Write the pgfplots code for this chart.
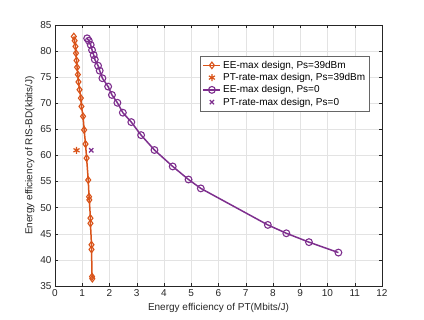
\documentclass[border=0pt]{standalone}
\usepackage{pgfplots}
\pgfplotsset{compat=1.18}
\usepackage{fontspec}
\setmainfont{Liberation Sans}
\definecolor{morange}{rgb}{0.85,0.325,0.098}
\definecolor{mpurple}{rgb}{0.494,0.184,0.556}
\definecolor{maxis}{rgb}{0.15,0.15,0.15}
\begin{document}
\begin{tikzpicture}
\path[use as bounding box] (-55pt,-34pt) rectangle (369pt,286pt);
\begin{axis}[
    scale only axis,
    width=327pt, height=261pt,
    xmin=0, xmax=12, ymin=35, ymax=85,
    xtick={0,1,...,12}, ytick={35,40,...,85},
    xlabel={Energy efficiency of PT(Mbits/J)},
    ylabel={Energy efficiency of RIS-BD(kbits/J)},
    grid=major, grid style={gray!22, line width=0.4pt},
    axis line style={maxis, line width=0.4pt},
    tick style={maxis, line width=0.4pt},
    tick align=inside, major tick length=3pt,
    ticklabel style={font=\normalsize, text=black!85},
    label style={font=\normalsize, text=black!85},
    xlabel style={yshift=0pt},
    ylabel style={yshift=-1pt},
    /pgf/number format/assume math mode=true,
    legend cell align=left,
    legend style={at={(0.963,0.88)}, anchor=north east, draw=black!60,
        fill=white, font=\normalsize, row sep=-0.5pt, inner sep=2.5pt},
]
\addplot[morange, line width=1.5pt, mark=diamond, mark size=3.3pt,
    mark options={line width=1.1pt, solid}] coordinates {
(0.69,82.8) (0.72,82.0) (0.75,80.9) (0.77,79.6) (0.79,78.2) (0.81,76.9)
(0.84,75.5) (0.86,74.1) (0.90,72.6) (0.95,71.0) (0.97,69.4) (1.03,67.5)
(1.07,64.9) (1.12,62.2) (1.16,59.5) (1.22,55.3) (1.25,52.1) (1.26,51.5)
(1.30,48.0) (1.30,47.0) (1.34,42.9) (1.34,42.0) (1.36,36.8) (1.37,36.4)
};
\addlegendentry{EE-max design, Ps=39dBm}
\addplot[morange, only marks, mark=asterisk, mark size=3.5pt,
    mark options={line width=1.2pt}] coordinates {(0.79,61.0)};
\addlegendentry{PT-rate-max design, Ps=39dBm}
\addplot[mpurple, line width=1.5pt, mark=o, mark size=3.4pt,
    mark options={line width=1.1pt, solid}] coordinates {
(1.18,82.45) (1.24,82.0) (1.31,81.2) (1.36,80.2) (1.42,79.25) (1.46,78.4)
(1.58,77.2) (1.64,76.25) (1.74,74.8) (1.95,73.2) (2.09,71.6) (2.29,70.1)
(2.49,68.2) (2.80,66.4) (3.16,63.9) (3.65,61.05) (4.32,57.9) (4.90,55.4)
(5.35,53.7) (7.81,46.7) (8.49,45.1) (9.32,43.4) (10.40,41.4)
};
\addlegendentry{EE-max design, Ps=0}
\addplot[mpurple, only marks, mark=x, mark size=3pt,
    mark options={line width=1.3pt}] coordinates {(1.33,61.0)};
\addlegendentry{PT-rate-max design, Ps=0}
\end{axis}
\end{tikzpicture}
\end{document}
